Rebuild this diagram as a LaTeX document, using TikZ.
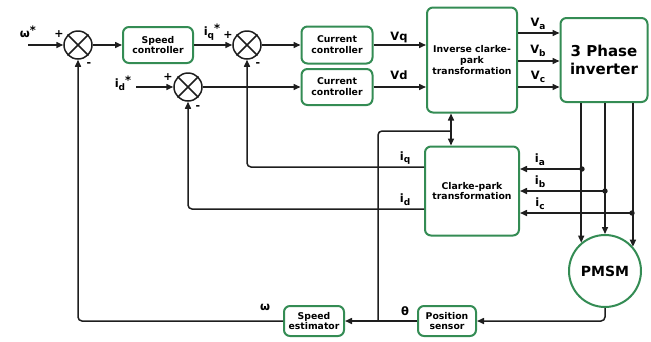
\documentclass[tikz,border=0pt]{standalone}
\usepackage{fontspec}
\setmainfont{DejaVu Sans}
\usetikzlibrary{arrows.meta}
\definecolor{boxgreen}{RGB}{52,140,84}
\definecolor{ln}{RGB}{30,30,30}
\newcommand{\sbx}[1]{\raisebox{-0.45ex}{\fontsize{9}{9}\selectfont #1}}
\newcommand{\stx}{\raisebox{0.55ex}{*}}
\begin{document}
\begin{tikzpicture}[x=1pt,y=-1pt,
  blk/.style={draw=boxgreen, line width=2pt, rounded corners=6pt, fill=white, align=center,
    font=\bfseries\fontsize{9.3}{10.8}\selectfont, inner sep=0pt},
  sumc/.style={draw=ln, line width=1.5pt, circle, minimum size=28pt, inner sep=0pt},
  con/.style={line width=1.5pt, draw=ln, -{Triangle[length=7pt,width=6pt]}},
  pl/.style={line width=1.5pt, draw=ln},
  lbl/.style={font=\bfseries\fontsize{11.5}{11.5}\selectfont, inner sep=0pt},
  sg/.style={font=\bfseries\fontsize{11}{11}\selectfont, inner sep=0pt}
]
\useasboundingbox (0,0) rectangle (651,341);
% summing junctions
\node[sumc] (s1) at (78,45) {};
\node[sumc] (s2) at (247,45) {};
\node[sumc] (s3) at (188,87) {};
\foreach \s in {s1,s2,s3}{
  \draw[line width=1.5pt, draw=ln] (\s.45) -- (\s.225) (\s.135) -- (\s.315);
}
% blocks
\node[blk, minimum width=70pt, minimum height=36pt] (sc) at (158,45) {Speed\\controller};
\node[blk, minimum width=71pt, minimum height=37pt] (cc1) at (337,45) {Current\\controller};
\node[blk, minimum width=71pt, minimum height=36pt] (cc2) at (337,87) {Current\\controller};
\node[blk, minimum width=90pt, minimum height=105pt] (icp) at (472,60) {Inverse clarke-\\park\\transformation};
\node[blk, minimum width=87pt, minimum height=84pt, font=\bfseries\fontsize{15}{18}\selectfont] (inv) at (604,60) {3 Phase\\inverter};
\node[blk, minimum width=94pt, minimum height=89pt] (cp) at (472,191) {Clarke-park\\transformation};
\node[blk, circle, minimum size=72pt, font=\bfseries\fontsize{14}{14}\selectfont] (pm) at (605,271) {PMSM};
\node[blk, minimum width=60pt, minimum height=30pt] (se) at (314,321) {Speed\\estimator};
\node[blk, minimum width=58pt, minimum height=30pt] (ps) at (447,321) {Position\\sensor};
% helper coordinates
\coordinate (win) at (28,45);
\coordinate (idin) at (136,87);
\coordinate (ya) at (0,33);
\coordinate (yb) at (0,61);
\coordinate (yc) at (0,87);
\coordinate (da) at (582,169);
\coordinate (db) at (605,191);
\coordinate (dc) at (632,213);
\coordinate (iqy) at (0,167);
\coordinate (idy) at (0,209);
\coordinate (bx) at (451,0);
\coordinate (tj) at (378,321);
\coordinate (tc) at (451,131);
% forward path
\draw[con] (win) -- (s1);
\draw[con] (s1) -- (sc);
\draw[con] (sc) -- (s2);
\draw[con] (s2) -- (cc1);
\draw[con] (idin) -- (s3);
\draw[con] (s3) -- (cc2);
\draw[con] (cc1.east) -- (icp.west |- cc1.east);
\draw[con] (cc2.east) -- (icp.west |- cc2.east);
\draw[con] (icp.east |- ya) -- (inv.west |- ya);
\draw[con] (icp.east |- yb) -- (inv.west |- yb);
\draw[con] (icp.east |- yc) -- (inv.west |- yc);
\draw[con] (inv.south -| pm.130) -- (pm.130);
\draw[con] (inv.south -| pm.north) -- (pm.north);
\draw[con] (inv.south -| pm.41.4) -- (pm.41.4);
% current measurement
\foreach \d in {da,db,dc}{
  \fill[ln] (\d) circle (2.7pt);
  \draw[con] (\d) -- (cp.east |- \d);
}
% angle link
\draw[line width=1.5pt, draw=ln, {Triangle[length=7pt,width=6pt]}-{Triangle[length=7pt,width=6pt]}] (icp.south -| bx) -- (cp.north -| bx);
\draw[pl, rounded corners=4pt] (tj) -- (tj |- tc) -- (tc);
% feedback
\draw[con, rounded corners=4pt] (cp.west |- iqy) -- (s2 |- iqy) -- (s2.south);
\draw[con, rounded corners=4pt] (cp.west |- idy) -- (s3 |- idy) -- (s3.south);
\draw[con, rounded corners=4pt] (pm.south) -- (pm.south |- ps.east) -- (ps.east);
\draw[con] (ps.west) -- (se.east);
\draw[con, rounded corners=4pt] (se.west) -- (s1 |- se.west) -- (s1.south);
% labels
\node[lbl] at (28,32) {ω\stx};
\node[sg] at (59,34) {+};
\node[sg] at (89,65) {-};
\node[lbl] at (212,32) {i\sbx{q}\stx};
\node[sg] at (228,35) {+};
\node[sg] at (258,65) {-};
\node[lbl] at (123,83) {i\sbx{d}\stx};
\node[sg] at (168,77) {+};
\node[sg] at (198,108) {-};
\node[lbl] at (399,37) {Vq};
\node[lbl] at (399,75) {Vd};
\node[lbl] at (538,24) {V\sbx{a}};
\node[lbl] at (538,51) {V\sbx{b}};
\node[lbl] at (538,77) {V\sbx{c}};
\node[lbl] at (405,158) {i\sbx{q}};
\node[lbl] at (405,200) {i\sbx{d}};
\node[lbl] at (540,160) {i\sbx{a}};
\node[lbl] at (540,182) {i\sbx{b}};
\node[lbl] at (540,204) {i\sbx{c}};
\node[lbl] at (265,307) {ω};
\node[lbl] at (405,311) {θ};
\end{tikzpicture}
\end{document}
